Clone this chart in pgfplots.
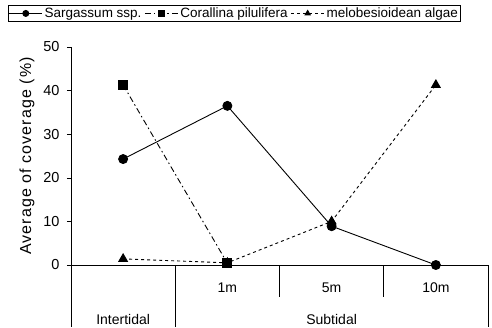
\documentclass[border=0pt]{standalone}
\usepackage{fontspec}
\setmainfont{Liberation Sans}
\usepackage{pgfplots}
\pgfplotsset{compat=1.18}
\begin{document}
\begin{tikzpicture}
\begin{axis}[
  scale only axis, width=417pt, height=218pt,
  xmin=-0.5, xmax=3.5, ymin=0, ymax=50,
  axis x line*=bottom, axis y line*=left,
  xtick=\empty, ytick={0,10,20,30,40,50},
  tick align=outside, major tick length=4pt,
  tick style={black, line width=0.6pt},
  axis line style={line width=0.6pt},
  /pgf/number format/assume math mode=true,
  y tick label style={font=\fontsize{14.5}{14}\selectfont, xshift=-4pt},
  ylabel={Average of coverage (\%)},
  ylabel style={at={(axis description cs:-0.1055,0.5)}, anchor=center, font=\fontsize{16}{16}\selectfont\addfontfeature{LetterSpace=7}},
  clip=false,
  legend columns=3,
  legend style={at={(axis description cs:-0.151,1.154)}, anchor=west, draw=black, line width=0.6pt,
    font=\fontsize{13.5}{14}\selectfont, inner sep=0.5pt,
    /tikz/every even column/.append style={column sep=1pt}},
  legend image code/.code={\draw[mark repeat=2,mark phase=2,mark size=3pt,#1] plot coordinates {(0pt,0pt) (16.5pt,0pt) (33pt,0pt)};},
]
\addplot[black, line width=0.9pt, mark=*, mark size=4.5pt] coordinates {(0,24.3) (1,36.5) (2,8.9) (3,0)};
\addlegendentry{Sargassum ssp.}
\addplot[black, line width=0.9pt, dash pattern=on 6pt off 3pt on 1.5pt off 3pt, mark=square*, mark size=4.5pt, mark options={solid}] coordinates {(0,41.3) (1,0.4)};
\addlegendentry{Corallina pilulifera}
\addplot[black, line width=0.9pt, dash pattern=on 3pt off 3pt, mark=triangle*, mark size=5pt, mark options={solid}] coordinates {(0,1.4) (1,0.5) (2,10) (3,41.3)};
\addlegendentry{melobesioidean algae}
\draw[line width=0.6pt] (axis cs:-0.5,0) -- ([yshift=-62pt]axis cs:-0.5,0);
\draw[line width=0.6pt] (axis cs:0.5,0) -- ([yshift=-62pt]axis cs:0.5,0);
\draw[line width=0.6pt] (axis cs:3.5,0) -- ([yshift=-62pt]axis cs:3.5,0);
\draw[line width=0.6pt] (axis cs:1.5,0) -- ([yshift=-32pt]axis cs:1.5,0);
\draw[line width=0.6pt] (axis cs:2.5,0) -- ([yshift=-32pt]axis cs:2.5,0);
\node[font=\fontsize{14}{14}\selectfont] at ([yshift=-23pt]axis cs:1,0) {1m};
\node[font=\fontsize{14}{14}\selectfont] at ([yshift=-23pt]axis cs:2,0) {5m};
\node[font=\fontsize{14}{14}\selectfont] at ([yshift=-23pt]axis cs:3,0) {10m};
\node[font=\fontsize{14}{14}\selectfont] at ([yshift=-54pt]axis cs:0,0) {Intertidal};
\node[font=\fontsize{14}{14}\selectfont] at ([yshift=-54pt]axis cs:2,0) {Subtidal};
\end{axis}
\pgfresetboundingbox
\path (-71pt,-62pt) rectangle (421pt,265pt);
\end{tikzpicture}
\end{document}
